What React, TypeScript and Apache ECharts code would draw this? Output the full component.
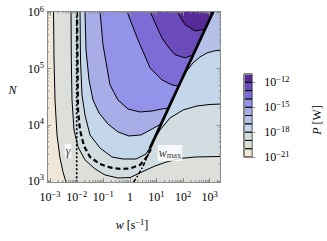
import React, { useEffect, useRef } from 'react';
import * as echarts from 'echarts';

// ---------- axis ranges (read from the frame) ----------
const W_MIN = 7.64e-4;
const W_MAX = 2594;
const N_MIN = 959;
const N_MAX = 1.0375e6;
const X_TICK_EXP = [-3, -2, -1, 0, 1, 2, 3];
const Y_TICK_EXP = [3, 4, 5, 6];
const CB_TICK_EXP = [-21, -18, -15, -12];
// minor tick multipliers and decades (log axes)
const MINOR_MULT = [2, 3, 4, 5, 6, 7, 8, 9];
const X_MINOR_DECADES = [-4, -3, -2, -1, 0, 1, 2, 3];
const Y_MINOR_DECADES = [3, 4, 5];

// colour-bar levels: lower exponent of each decade band of P [W]
const CB_LEVELS = [-21, -20, -19, -18, -17, -16, -15, -14, -13, -12];
const CB_COLORS = ['#efe7d8', '#dddfdb', '#d2dde2', '#c4d7ea', '#b5c1e9', '#a8ade8', '#9393e9', '#7e6cd6', '#6b4ab9', '#582a97'];

// ---------- contour lines [w (1/s), N] ----------
const C_20: [number, number][] = [
  [1.343e-3, 1.04e6], [1.403e-3, 1.422e5], [1.528e-3, 2.761e4], [1.816e-3, 6.58e3],
  [2.355e-3, 2.56e3], [3.055e-3, 1.445e3], [3.963e-3, 950],
];
const C_19: [number, number][] = [
  [6.11e-3, 1.04e6], [6.27e-3, 1.42e5], [6.65e-3, 2.76e4], [7.91e-3, 8.07e3], [0.0112, 4.03e3],
  [0.0205, 2.37e3], [0.0488, 1.64e3], [0.116, 1.28e3], [0.357, 1.13e3], [1.01, 1.15e3],
  [2.85, 1.45e3], [8.79, 1.85e3], [27.0, 2.22e3], [76.6, 2.51e3], [280, 2.67e3], [2600, 2.73e3],
];
const C_18: [number, number][] = [
  [0.0133, 1.04e6], [0.0139, 1.42e5], [0.0158, 3.39e4], [0.0205, 1.49e4], [0.0316, 6.59e3],
  [0.0752, 3.86e3], [0.212, 2.67e3], [0.551, 2.46e3], [1.69, 2.46e3], [4.03, 3.02e3], [6.21, 4.2e3],
];
const C_17: [number, number][] = [
  [0.0205, 1.04e6], [0.0224, 2.14e5], [0.029, 6.27e4], [0.041, 2.76e4], [0.0689, 1.62e4],
  [0.15, 1.03e4], [0.357, 7.45e3], [0.925, 6.32e3], [2.61, 6.59e3], [6.77, 8.41e3], [14.9, 1.03e4],
];
const C_16: [number, number][] = [
  [0.0752, 1.04e6], [0.0975, 2.63e5], [0.179, 5.11e4], [0.357, 2.76e4], [0.849, 1.91e4],
  [2.4, 1.69e4], [6.77, 1.76e4], [16.1, 1.91e4], [28.3, 1.99e4],
];
const C_15: [number, number][] = [
  [0.778, 1.04e6], [1.1, 6.75e5], [2.02, 3.23e5], [5.7, 1.03e5], [16.1, 6.27e4], [38.3, 5.11e4], [68.4, 4.9e4],
];
const C_14: [number, number][] = [
  [5.7, 1.04e6], [9.57, 5.97e5], [16.1, 3.51e5], [29.5, 2.33e5], [49.6, 1.77e5], [118, 1.55e5], [238, 1.75e5],
];
const C_13: [number, number][] = [
  [59.0, 1.04e6], [118, 6.04e5], [280, 4.67e5], [678, 5.07e5],
];
// contours right of the w = w_max edge
const R_18: [number, number][] = [
  [7.52, 5.15e3], [13.5, 8.07e3], [32.2, 1.32e4], [99.1, 1.83e4], [333, 2.16e4], [1026, 2.3e4], [2600, 2.34e4],
];
const R_17: [number, number][] = [
  [83.4, 6.01e4], [128, 8.71e4], [236, 1.26e5], [432, 1.61e5], [791, 1.9e5], [1452, 2.06e5], [2600, 2.14e5],
];
// edge, dashed and dotted guides
const EDGE: [number, number][] = [[5.7, 3.86e3], [1365, 1.0375e6]];
const W_MAX_CURVE: [number, number][] = [
  [0.01026, 1.04e6], [0.01072, 1.42e5], [0.0112, 1.83e4], [0.0133, 8.07e3], [0.0188, 4.2e3],
  [0.0316, 2.67e3], [0.0752, 2.0e3], [0.179, 1.74e3], [0.425, 1.64e3], [1.01, 1.67e3],
  [2.4, 1.93e3], [4.03, 2.56e3], [5.7, 3.42e3], [6.95, 4.74e3],
];
const W_MAX_LOW: [number, number][] = [
  [1.36, 950], [1.85, 1.18e3], [2.61, 1.57e3], [3.7, 2.18e3], [4.79, 2.9e3], [5.7, 3.86e3],
];
const GAMMA: [number, number][] = [[0.01, 950], [0.01, 1.04e6]];
// annotation anchors
const GAMMA_LABEL: [number, number] = [0.00471, 3.42e3];
const WMAX_LABEL: [number, number] = [32.2, 3.15e3];

// outer box used to close filled regions (outside the visible range, clipped)
const LO_W = 4e-4, HI_W = 4000, LO_N = 800, HI_N = 1.3e6;
const TOP = EDGE[1];

const FILLS: { pts: [number, number][]; level: number }[] = [
  { pts: [[LO_W, LO_N], [HI_W, LO_N], [HI_W, HI_N], [LO_W, HI_N]], level: 0 },
  { pts: [...C_20, [HI_W, LO_N], [HI_W, HI_N]], level: 1 },
  { pts: [...C_19, [HI_W, HI_N]], level: 2 },
  { pts: [...C_18, TOP], level: 3 },
  { pts: [...R_18, [HI_W, HI_N], TOP], level: 3 },
  { pts: [...R_17, [HI_W, HI_N], TOP], level: 4 },
  { pts: [...C_17, TOP], level: 5 },
  { pts: [...C_16, TOP], level: 6 },
  { pts: [...C_15, TOP], level: 7 },
  { pts: [...C_14, TOP], level: 8 },
  { pts: [...C_13, TOP], level: 9 },
];

const X_MINOR: number[] = [];
X_MINOR_DECADES.forEach((d) => MINOR_MULT.forEach((m) => {
  const v = m * Math.pow(10, d);
  if (v > W_MIN && v < W_MAX) X_MINOR.push(v);
}));
const Y_MINOR: number[] = [];
Y_MINOR_DECADES.forEach((d) => MINOR_MULT.forEach((m) => {
  const v = m * Math.pow(10, d);
  if (v > N_MIN && v < N_MAX) Y_MINOR.push(v);
}));

const FONT = "'Liberation Serif', 'DejaVu Serif', serif";
const FRAME = '#8c8c8c';
const SUP = { fontSize: 8.5, fontFamily: FONT, color: '#000', padding: [0, 0, 7, 0], lineHeight: 9 };

function powText(e: number): string {
  if (e === 0) return '1';
  return '10{s|' + (e < 0 ? '\u2212' + -e : String(e)) + '}';
}
function logLabel(allowed: number[]) {
  return (v: number) => {
    const e = Math.log10(v);
    const r = Math.round(e);
    if (Math.abs(e - r) > 1e-6 || allowed.indexOf(r) < 0) return '';
    return powText(r);
  };
}

const lineSeries = (data: [number, number][], width: number, type: any = 'solid', z = 3) => ({
  type: 'line',
  xAxisIndex: 0,
  yAxisIndex: 0,
  data,
  showSymbol: false,
  symbol: 'none',
  silent: true,
  z,
  lineStyle: { color: '#000', width, type, cap: 'butt' },
  clip: true,
});

function buildOption(): any {
  const frameAxis = {
    z: 10,
    axisLine: { show: true, onZero: false, lineStyle: { color: FRAME, width: 1 } },
    axisTick: { show: true, inside: true, length: 4, lineStyle: { color: FRAME, width: 1 } },
    splitLine: { show: false },
  };
  const minorData = [
    ...X_MINOR.map((v) => [v, N_MIN, 0]),
    ...Y_MINOR.map((v) => [W_MIN, v, 1]),
  ];
  return {
    animation: false,
    backgroundColor: '#fff',
    grid: [
      { left: 47, top: 11.5, width: 173.7, height: 170.5 },
      { left: 244, top: 74, width: 8.3, height: 83 },
    ],
    xAxis: [
      {
        ...frameAxis, type: 'log', gridIndex: 0, position: 'bottom', min: W_MIN, max: W_MAX,
        axisLabel: {
          formatter: logLabel(X_TICK_EXP), fontFamily: FONT, fontSize: 12, color: '#000', margin: 9,
          showMinLabel: false, showMaxLabel: false, rich: { s: SUP },
        },
      },
      { ...frameAxis, type: 'log', gridIndex: 0, position: 'top', min: W_MIN, max: W_MAX, axisLabel: { show: false } },
      {
        type: 'value', gridIndex: 1, position: 'bottom', min: 0, max: 1, z: 10,
        axisLine: { show: true, onZero: false, lineStyle: { color: FRAME } },
        axisTick: { show: false }, axisLabel: { show: false }, splitLine: { show: false },
      },
      {
        type: 'value', gridIndex: 1, position: 'top', min: 0, max: 1, z: 10,
        axisLine: { show: true, onZero: false, lineStyle: { color: FRAME } },
        axisTick: { show: false }, axisLabel: { show: false }, splitLine: { show: false },
      },
    ],
    yAxis: [
      {
        ...frameAxis, type: 'log', gridIndex: 0, position: 'left', min: N_MIN, max: N_MAX,
        axisLabel: {
          formatter: logLabel(Y_TICK_EXP), fontFamily: FONT, fontSize: 12, color: '#000', margin: 3,
          showMinLabel: false, showMaxLabel: false, rich: { s: SUP },
        },
      },
      { ...frameAxis, type: 'log', gridIndex: 0, position: 'right', min: N_MIN, max: N_MAX, axisLabel: { show: false } },
      {
        type: 'value', gridIndex: 1, position: 'right', min: -21, max: -11, interval: 3, z: 10,
        axisLine: { show: true, onZero: false, lineStyle: { color: FRAME } },
        axisTick: { show: true, inside: false, length: 3, lineStyle: { color: FRAME } },
        axisLabel: {
          formatter: (v: number) => (CB_TICK_EXP.indexOf(Math.round(v)) >= 0 ? powText(Math.round(v)) : ''),
          fontFamily: FONT, fontSize: 12, color: '#000', margin: 12, showMaxLabel: false, rich: { s: SUP },
        },
        splitLine: { show: false },
      },
      {
        type: 'value', gridIndex: 1, position: 'left', min: -21, max: -11, z: 10,
        axisLine: { show: true, onZero: false, lineStyle: { color: FRAME } },
        axisTick: { show: false }, axisLabel: { show: false }, splitLine: { show: false },
      },
    ],
    series: [
      {
        type: 'custom',
        xAxisIndex: 0,
        yAxisIndex: 0,
        clip: true,
        silent: true,
        z: 1,
        data: FILLS.map((_, i) => [1, 1e4, i]),
        renderItem: (params: any, api: any) => {
          const f = FILLS[params.dataIndex];
          return {
            type: 'polygon',
            shape: { points: f.pts.map((p) => api.coord(p)) },
            style: { fill: CB_COLORS[f.level], stroke: 'none' },
          };
        },
      },
      lineSeries(C_20, 1),
      lineSeries(C_19, 1),
      lineSeries(C_18, 1),
      lineSeries(C_17, 1),
      lineSeries(C_16, 1),
      lineSeries(C_15, 1),
      lineSeries(C_14, 1),
      lineSeries(C_13, 1),
      lineSeries(R_18, 1),
      lineSeries(R_17, 1),
      lineSeries(EDGE, 2.8),
      lineSeries(W_MAX_CURVE, 2.2, [5, 3], 4),
      lineSeries(W_MAX_LOW, 1.6, [4, 2, 1.5, 2], 4),
      lineSeries(GAMMA, 1.7, [2, 2], 4),
      {
        // minor ticks of the log frame (bottom/top and left/right)
        type: 'custom',
        xAxisIndex: 0,
        yAxisIndex: 0,
        silent: true,
        z: 11,
        data: minorData,
        renderItem: (params: any, api: any) => {
          const kind = api.value(2);
          const p = api.coord([api.value(0), api.value(1)]);
          const cs = params.coordSys;
          const st = { stroke: FRAME, lineWidth: 1 };
          if (kind === 0) {
            return {
              type: 'group',
              children: [
                { type: 'line', shape: { x1: p[0], y1: cs.y + cs.height, x2: p[0], y2: cs.y + cs.height - 2 }, style: st },
                { type: 'line', shape: { x1: p[0], y1: cs.y, x2: p[0], y2: cs.y + 2 }, style: st },
              ],
            };
          }
          return {
            type: 'group',
            children: [
              { type: 'line', shape: { x1: cs.x, y1: p[1], x2: cs.x + 2, y2: p[1] }, style: st },
              { type: 'line', shape: { x1: cs.x + cs.width, y1: p[1], x2: cs.x + cs.width - 2, y2: p[1] }, style: st },
            ],
          };
        },
      },
      {
        type: 'scatter',
        xAxisIndex: 0,
        yAxisIndex: 0,
        z: 6,
        silent: true,
        symbolSize: 1,
        itemStyle: { color: 'rgba(0,0,0,0)' },
        data: [GAMMA_LABEL, WMAX_LABEL],
        label: {
          show: true,
          position: 'inside',
          backgroundColor: '#fff',
          padding: [1, 1, 1, 1],
          fontFamily: FONT,
          fontSize: 12,
          color: '#000',
          formatter: (p: any) => (p.dataIndex === 0 ? '{i|\u03b3}' : '{i|w}{b|max}'),
          rich: {
            i: { fontFamily: FONT, fontStyle: 'italic', fontSize: 12, color: '#000' },
            b: { fontFamily: FONT, fontSize: 8.5, color: '#000', padding: [5, 0, 0, 0] },
          },
        },
      },
      {
        type: 'custom',
        xAxisIndex: 2,
        yAxisIndex: 2,
        silent: true,
        z: 2,
        data: CB_LEVELS.map((lo) => [0.5, lo]),
        renderItem: (params: any, api: any) => {
          const lo = api.value(1);
          const p0 = api.coord([0, lo]);
          const p1 = api.coord([1, lo + 1]);
          return {
            type: 'rect',
            shape: { x: p0[0], y: p1[1], width: p1[0] - p0[0], height: p0[1] - p1[1] },
            style: { fill: CB_COLORS[params.dataIndex], stroke: '#000', lineWidth: 1 },
          };
        },
      },
    ],
    graphic: [
      {
        type: 'text', x: 12.5, y: 90, z: 20,
        style: { text: 'N', font: `italic 12px ${FONT}`, fill: '#000', align: 'center', verticalAlign: 'middle' },
      },
      {
        type: 'text', x: 132, y: 225, z: 20,
        style: {
          text: '{i|w} [s{s|\u22121}]', font: `12px ${FONT}`, fill: '#000', align: 'center', verticalAlign: 'middle',
          rich: { i: { fontFamily: FONT, fontStyle: 'italic', fontSize: 12 }, s: SUP },
        },
      },
      {
        type: 'text', x: 317, y: 120, rotation: Math.PI / 2, z: 20,
        style: {
          text: '{i|P} [W]', font: `12px ${FONT}`, fill: '#000', align: 'center', verticalAlign: 'middle',
          rich: { i: { fontFamily: FONT, fontStyle: 'italic', fontSize: 12 } },
        },
      },
    ],
  };
}

export default function App() {
  const ref = useRef<HTMLDivElement>(null);
  useEffect(() => {
    if (!ref.current) return;
    const chart = echarts.init(ref.current, null, { renderer: 'svg' });
    chart.setOption(buildOption());
    return () => chart.dispose();
  }, []);
  return (
    <div
      ref={ref}
      style={{ position: 'fixed', left: 0, top: 0, width: 327, height: 241, background: '#fff' }}
    />
  );
}
